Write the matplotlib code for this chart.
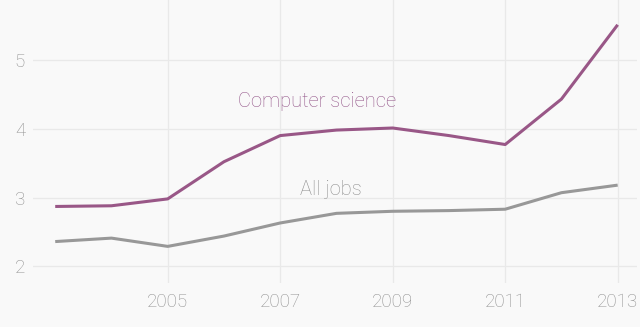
import matplotlib
matplotlib.use("Agg")
import matplotlib.pyplot as plt

# values
years = [2003, 2004, 2005, 2006, 2007, 2008, 2009, 2010, 2011, 2012, 2013]
computer_science = [2.87, 2.88, 2.98, 3.52, 3.90, 3.98, 4.01, 3.90, 3.77, 4.43, 5.51]
all_jobs = [2.36, 2.41, 2.29, 2.44, 2.63, 2.77, 2.80, 2.81, 2.83, 3.07, 3.18]
x_ticks = [2005, 2007, 2009, 2011, 2013]
y_ticks = [2, 3, 4, 5]

bg = '#f9f9f9'
purple = '#995787'
gray = '#989898'
text_gray = '#909090'

plt.rcParams['font.family'] = ['Roboto', 'DejaVu Sans']
plt.rcParams['font.weight'] = 'light'

fig = plt.figure(figsize=(6.4, 3.27), dpi=100, facecolor=bg)
ax = fig.add_axes([0.052, 0.135, 0.943, 0.865])
ax.set_facecolor(bg)

ax.plot(years, computer_science, color=purple, linewidth=2.2, solid_capstyle='butt', zorder=3)
ax.plot(years, all_jobs, color=gray, linewidth=2.2, solid_capstyle='butt', zorder=3)

ax.text(2007.65, 4.40, 'Computer science', color='#94578a', fontsize=14.5,
        fontweight='light', ha='center', va='center')
ax.text(2007.9, 3.11, 'All jobs', color=text_gray, fontsize=14.5,
        fontweight='light', ha='center', va='center')

ax.set_xlim(2002.61, 2013.34)
ax.set_ylim(1.76, 5.87)
ax.set_xticks(x_ticks)
ax.set_yticks(y_ticks)
ax.tick_params(length=0, labelsize=13.5, labelcolor=text_gray)
ax.tick_params(axis='x', pad=7)
ax.tick_params(axis='y', pad=6)
for lbl in ax.get_xticklabels() + ax.get_yticklabels():
    lbl.set_fontweight('light')

ax.grid(True, color='#e9e9e9', linewidth=0.9)
ax.set_axisbelow(True)
for s in ax.spines.values():
    s.set_visible(False)

fig.savefig('out.png', dpi=100, facecolor=bg)
